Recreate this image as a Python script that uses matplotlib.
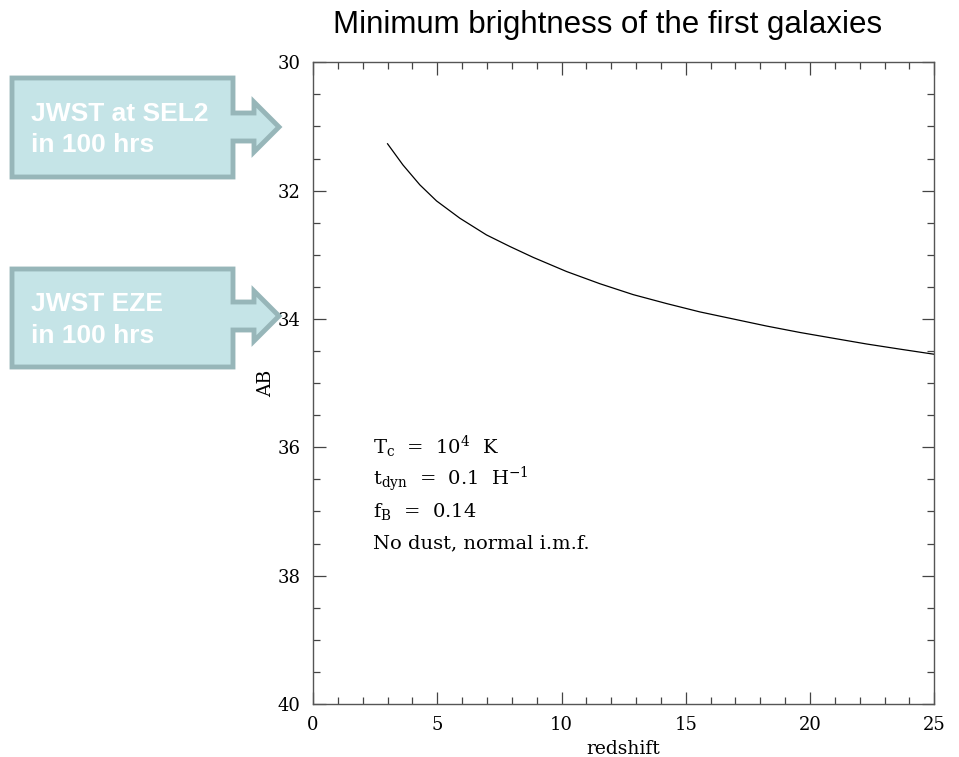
import matplotlib
matplotlib.use('Agg')
import matplotlib.pyplot as plt
from matplotlib.patches import Polygon
from matplotlib.ticker import MultipleLocator

# dati
redshift = [3.00, 3.62, 4.30, 4.97, 5.91, 6.98, 7.92, 8.86, 10.20, 11.54, 12.88, 14.23,
            15.57, 16.91, 18.25, 19.59, 20.93, 22.28, 23.62, 25.0]
ab_min = [31.27, 31.60, 31.91, 32.16, 32.43, 32.69, 32.87, 33.04, 33.26, 33.45, 33.62, 33.76,
          33.89, 34.00, 34.11, 34.21, 34.30, 34.39, 34.47, 34.55]

note = [r'T$_{\rm c}$  =  10$^4$  K',
        r't$_{\rm dyn}$  =  0.1  H$^{-1}$',
        r'f$_{\rm B}$  =  0.14',
        'No dust, normal i.m.f.']
note_ab = [36.0, 36.5, 37.0, 37.5]

callouts = [('JWST at SEL2\nin 100 hrs', 78, 177, 127),
            ('JWST EZE\nin 100 hrs', 269, 367, 316)]

plt.rcParams['font.family'] = ['DejaVu Serif']
plt.rcParams['mathtext.fontset'] = 'dejavuserif'
W, H = 959, 757
fig = plt.figure(figsize=(W / 100, H / 100), dpi=100, facecolor='white')
ax = fig.add_axes([313 / W, (H - 704) / H, (934.3 - 313) / W, (704 - 62.3) / H])

ax.plot(redshift, ab_min, color='black', linewidth=0.9)
ax.set_xlim(0, 25)
ax.set_ylim(40, 30)
ax.xaxis.set_major_locator(MultipleLocator(5))
ax.xaxis.set_minor_locator(MultipleLocator(1))
ax.yaxis.set_major_locator(MultipleLocator(2))
ax.yaxis.set_minor_locator(MultipleLocator(0.5))
ax.tick_params(which='both', direction='in', top=True, right=True, color='#444444', width=0.9)
ax.tick_params(which='major', length=9, labelsize=13, pad=9)
ax.tick_params(which='minor', length=4.7)
for s in ax.spines.values():
    s.set_color('#555555')
    s.set_linewidth(1.0)
ax.set_xlabel('redshift', fontsize=13.5, labelpad=4)
ax.set_ylabel('AB', fontsize=13.5, labelpad=2)

for t, yv in zip(note, note_ab):
    ax.text(2.4, yv, t, fontsize=14, va='center', ha='left')

fig.text(608 / W, 1 - 25 / H, 'Minimum brightness of the first galaxies',
         family='Liberation Sans', fontsize=22.5, ha='center', va='center')

# frecce-riquadro a sinistra
def fx(px):
    return px / W

def fy(py):
    return 1 - py / H

for testo, y0, y1, yt in callouts:
    xs = [12, 233, 233, 254, 254, 279, 254, 254, 233, 233, 12]
    ys = [y0, y0, yt - 14, yt - 14, yt - 25, yt, yt + 25, yt + 14, yt + 14, y1, y1]
    pts = [(fx(a), fy(b)) for a, b in zip(xs, ys)]
    fig.patches.append(Polygon(pts, closed=True, transform=fig.transFigure,
                               facecolor='#c5e4e7', edgecolor='#97b6b9', linewidth=3.5,
                               joinstyle='miter'))
    fig.text(fx(31), fy((y0 + y1) / 2 + 2), testo,
             family='Liberation Sans', fontweight='bold',
             color='white', fontsize=19, ha='left', va='center', linespacing=1.4)

fig.savefig('out.png', dpi=100, facecolor='white')
